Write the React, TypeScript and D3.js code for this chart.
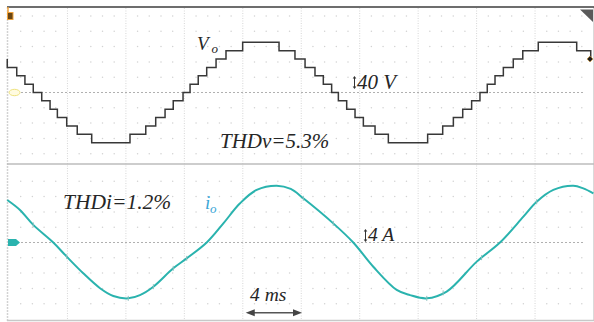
import { useRef, useEffect } from "react";
import * as d3 from "d3";

// staircase output voltage: instant of each step (ms) and the level held after it
const V_TIMES = [
  -0.12, -0.12, 0.53, 1.09, 1.66, 2.24, 2.81, 3.31, 3.95, 4.67, 5.66,
  8.28, 9.36, 10.04, 10.68, 11.24, 11.91, 12.39, 12.95, 13.53, 14.17, 14.85, 15.99,
  18.48, 19.57, 20.26, 20.94, 21.51, 22.08, 22.54, 23.11, 23.68, 24.25, 25.05, 25.96,
  28.65, 29.68, 30.41, 31.05, 31.66, 32.23, 32.73, 33.26, 33.83, 34.51, 35.16, 36.22,
  38.85, 39.81,
];
const V_LEVELS = [
  4, 3, 2, 1, 0, -1, -2, -3, -4, -5, -6,
  -5, -4, -3, -2, -1, 0, 1, 2, 3, 4, 5, 6,
  5, 4, 3, 2, 1, 0, -1, -2, -3, -4, -5, -6,
  -5, -4, -3, -2, -1, 0, 1, 2, 3, 4, 5, 6,
  5, 4,
];

// load current samples (ms, A)
const I_TIMES = [
  -0.12, 0.75, 1.66, 3.03, 3.95, 5.08, 6.23, 7.14, 8.16, 8.96, 9.88, 11.24, 12.16,
  13.53, 14.67, 15.81, 16.95, 18.32, 19.28, 20.14, 22.19, 23.56, 24.93, 26.53,
  27.44, 28.59, 29.95, 32.01, 33.6, 35.2, 36.11, 37.25, 38.62, 39.3, 39.99,
];
const I_VALUES = [
  2.22, 1.7, 0.92, 0.0, -0.74, -1.61, -2.39, -2.8, -2.92, -2.75, -2.31, -1.35, -0.83,
  0.0, 1.0, 2.05, 2.75, 2.97, 2.8, 2.31, 1.0, 0.0, -1.27, -2.48,
  -2.75, -2.92, -2.57, -1.0, 0.0, 1.35, 2.13, 2.75, 2.97, 2.83, 2.57,
];

// little switching spikes riding on the current trace (ms)
const I_SPIKES = [1.66, 3.95, 8.16, 9.88, 11.24, 12.16, 20.14, 22.19, 28.59, 29.71, 32.34, 36.11];

const SERIF = '"Liberation Serif", "Times New Roman", serif';

export default function App() {
  const svgRef = useRef<SVGSVGElement>(null);

  useEffect(() => {
    if (!svgRef.current) return;
    const W = 594;
    const H = 322;

    const svg = d3.select(svgRef.current);
    svg.selectAll("*").remove();
    svg.attr("width", W).attr("height", H).attr("viewBox", `0 0 ${W} ${H}`);

    const x = d3.scaleLinear().domain([0, 40]).range([9, 593.5]);
    const yV = d3.scaleLinear().domain([-6, 6]).range([142.7, 42.3]);
    const yI = d3.scaleLinear().domain([-4, 4]).range([319, 166]);

    svg.append("rect").attr("width", W).attr("height", H).attr("fill", "#fff");

    // dot grid, 5 minor per division
    const dotStep = 15.3;
    const cols = d3.range(0, 40.01, 0.8).filter((t) => Math.abs(t / 4 - Math.round(t / 4)) > 0.01);
    const rowsTop = d3.range(-4, 6).filter((k) => k !== 0).map((k) => yV(0) - k * dotStep).filter((y) => y > 12 && y < 160);
    const rowsBot = d3.range(-4, 5).filter((k) => k !== 0).map((k) => yI(0) - k * dotStep).filter((y) => y > 168 && y < 316);
    const dots = svg.append("g").attr("fill", "#d2d2d2");
    [...rowsTop, ...rowsBot].forEach((ry) => {
      dots.selectAll(null)
        .data(cols)
        .join("circle")
        .attr("cx", (d) => x(d))
        .attr("cy", ry)
        .attr("r", 0.75);
    });

    // vertical division lines
    svg.append("g")
      .selectAll("line")
      .data(d3.range(4, 40, 4))
      .join("line")
      .attr("x1", (d) => x(d))
      .attr("x2", (d) => x(d))
      .attr("y1", 8)
      .attr("y2", 320)
      .attr("stroke", "#d6d6d6")
      .attr("stroke-width", 1)
      .attr("stroke-dasharray", "1,1.5");

    // ground reference lines
    [yV(0), yI(0)].forEach((gy) => {
      svg.append("line")
        .attr("x1", 9).attr("x2", 583)
        .attr("y1", gy).attr("y2", gy)
        .attr("stroke", "#b0b0b0")
        .attr("stroke-width", 1)
        .attr("stroke-dasharray", "2,2");
    });

    // frame
    svg.append("line").attr("x1", 7.5).attr("x2", 7.5).attr("y1", 7).attr("y2", 321)
      .attr("stroke", "#d2d2d2").attr("stroke-width", 1.5).attr("stroke-dasharray", "2,1");
    svg.append("line").attr("x1", 593.5).attr("x2", 593.5).attr("y1", 7).attr("y2", 321)
      .attr("stroke", "#dadada").attr("stroke-width", 1);
    svg.append("line").attr("x1", 7).attr("x2", 594).attr("y1", 164).attr("y2", 164)
      .attr("stroke", "#bdbdbd").attr("stroke-width", 1.5);
    svg.append("line").attr("x1", 7).attr("x2", 594).attr("y1", 320.5).attr("y2", 320.5)
      .attr("stroke", "#c8c8c8").attr("stroke-width", 1.5);
    svg.append("line").attr("x1", 7).attr("x2", 594).attr("y1", 7).attr("y2", 7)
      .attr("stroke", "#3c3c3c").attr("stroke-width", 1.6);

    // voltage staircase
    const vPts: [number, number][] = V_TIMES.map((t, i) => [t, V_LEVELS[i]]);
    const vLine = d3.line<[number, number]>()
      .x((d) => x(d[0]))
      .y((d) => yV(d[1]))
      .curve(d3.curveStepAfter);
    svg.append("path")
      .attr("d", vLine(vPts))
      .attr("fill", "none")
      .attr("stroke", "#383838")
      .attr("stroke-width", 1.5);

    // current trace
    const iPts: [number, number][] = I_TIMES.map((t, i) => [t, I_VALUES[i]]);
    const iLine = d3.line<[number, number]>()
      .x((d) => x(d[0]))
      .y((d) => yI(d[1]))
      .curve(d3.curveCatmullRom.alpha(0.5));
    svg.append("path")
      .attr("d", iLine(iPts))
      .attr("fill", "none")
      .attr("stroke", "#2ab3ae")
      .attr("stroke-width", 2);

    const iAt = d3.scaleLinear().domain(I_TIMES).range(I_VALUES);
    svg.append("g")
      .selectAll("line")
      .data(I_SPIKES)
      .join("line")
      .attr("x1", (d) => x(d))
      .attr("x2", (d) => x(d))
      .attr("y1", (d) => yI(iAt(d)) - 2.5)
      .attr("y2", (d) => yI(iAt(d)) + 2.5)
      .attr("stroke", "#8cc0bd")
      .attr("stroke-width", 1);

    // scope markers
    svg.append("rect").attr("x", 7.5).attr("y", 12.5).attr("width", 5.5).attr("height", 7)
      .attr("fill", "#6a4614").attr("stroke", "#f0a23a").attr("stroke-width", 1);
    svg.append("line").attr("x1", 8).attr("x2", 8).attr("y1", 7).attr("y2", 12)
      .attr("stroke", "#f0a23a").attr("stroke-width", 1.5);
    svg.append("path").attr("d", "M580,9.5 L593,9.5 L593,22 Z").attr("fill", "#5a5a5a");
    svg.append("path").attr("d", `M587,${yV(4)} L590,${yV(4) - 3} L593,${yV(4)} L590,${yV(4) + 3} Z`)
      .attr("fill", "#1e1e1e").attr("stroke", "#d89a30").attr("stroke-width", 0.6);
    svg.append("ellipse").attr("cx", 14.5).attr("cy", yV(0)).attr("rx", 5.5).attr("ry", 3.2)
      .attr("fill", "#fffbe0").attr("stroke", "#eee27e").attr("stroke-width", 1);
    const gI = yI(0);
    svg.append("path")
      .attr("d", `M8,${gI - 3.5} L16,${gI - 3.5} L20,${gI} L16,${gI + 3.5} L8,${gI + 3.5} Z`)
      .attr("fill", "#2ab3ae");

    // labels
    const txt = (tx: number, ty: number, s: string, size: number, color = "#262626") =>
      svg.append("text")
        .attr("x", tx).attr("y", ty)
        .style("font-family", SERIF)
        .style("font-style", "italic")
        .style("font-size", `${size}px`)
        .style("fill", color)
        .text(s);

    txt(197, 50, "V", 19);
    txt(211.5, 52.5, "o", 13);
    txt(357, 89, "40 V", 21);
    txt(220, 147.5, "THDv=5.3%", 21);
    txt(63, 208.5, "THDi=1.2%", 21.5);
    txt(205, 209, "i", 19, "#3aa6d6");
    txt(210, 212.5, "o", 13, "#3aa6d6");
    txt(368, 241, "4 A", 19.5);
    txt(250, 301, "4 ms", 19.5);

    // small up/down arrows next to the scale labels
    const vArrow = (ax: number, y1: number, y2: number) => {
      svg.append("line").attr("x1", ax).attr("x2", ax).attr("y1", y1 + 2).attr("y2", y2 - 2)
        .attr("stroke", "#333").attr("stroke-width", 1);
      svg.append("path").attr("d", `M${ax - 1.8},${y1 + 2.5} L${ax},${y1} L${ax + 1.8},${y1 + 2.5} Z`).attr("fill", "#333");
      svg.append("path").attr("d", `M${ax - 1.8},${y2 - 2.5} L${ax},${y2} L${ax + 1.8},${y2 - 2.5} Z`).attr("fill", "#333");
    };
    vArrow(354.5, 76, 89);
    vArrow(365.5, 229, 242);

    // time scale arrow
    const ax1 = x(16.2);
    const ax2 = x(20.05);
    const ay = 312.7;
    svg.append("line").attr("x1", ax1 + 6).attr("x2", ax2 - 6).attr("y1", ay).attr("y2", ay)
      .attr("stroke", "#555").attr("stroke-width", 1.4);
    svg.append("path").attr("d", `M${ax1},${ay} L${ax1 + 9},${ay - 3.5} L${ax1 + 9},${ay + 3.5} Z`).attr("fill", "#444");
    svg.append("path").attr("d", `M${ax2},${ay} L${ax2 - 9},${ay - 3.5} L${ax2 - 9},${ay + 3.5} Z`).attr("fill", "#444");
  }, []);

  return (
    <svg
      ref={svgRef}
      style={{ position: "absolute", left: 0, top: 0, display: "block" }}
    />
  );
}
